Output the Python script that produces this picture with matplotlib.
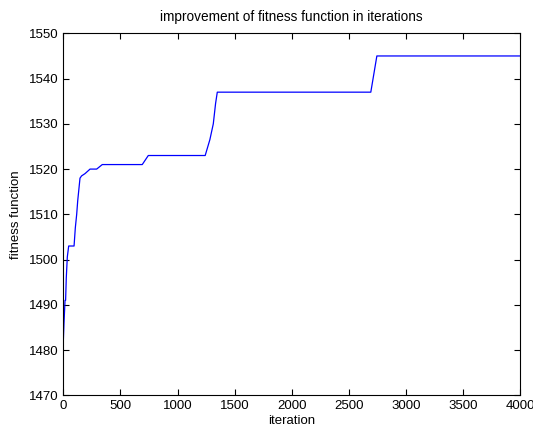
import matplotlib
matplotlib.use("Agg")
import matplotlib.pyplot as plt

plt.rcParams['font.family'] = ['Liberation Sans', 'DejaVu Sans']

iters = [0, 6, 15, 20, 26, 35, 47, 94, 105, 117, 126, 146, 160, 190, 234, 292,
         341, 691, 744, 1242, 1283, 1313, 1333, 1348, 2692, 2745, 4000]
fitness = [1482, 1486, 1491, 1491, 1496, 1500.6, 1503, 1503, 1507, 1510, 1513, 1518,
           1518.5, 1519, 1520, 1520, 1521, 1521, 1523, 1523, 1526.5, 1530, 1534.5,
           1537, 1537, 1545, 1545]

xticks = [0, 500, 1000, 1500, 2000, 2500, 3000, 3500, 4000]
yticks = [1470, 1480, 1490, 1500, 1510, 1520, 1530, 1540, 1550]

fig = plt.figure(figsize=(5.33, 4.33), dpi=100)
ax = fig.add_axes([0.1188, 0.087, 0.8572, 0.836])
ax.plot(iters, fitness, color='#0000ff', linewidth=0.9)

ax.set_xlim(0, 4000)
ax.set_ylim(1470, 1550)
ax.set_xticks(xticks)
ax.set_yticks(yticks)
ax.tick_params(direction='in', top=True, right=True, labelsize=9.5, length=4, width=0.8)
for s in ax.spines.values():
    s.set_linewidth(0.8)

ax.set_title('improvement of fitness function in iterations', fontsize=9.8, pad=9)
ax.set_xlabel('iteration', fontsize=9.5, labelpad=2)
ax.set_ylabel('fitness function', fontsize=9.5, labelpad=5)

fig.savefig('out.png', dpi=100)
